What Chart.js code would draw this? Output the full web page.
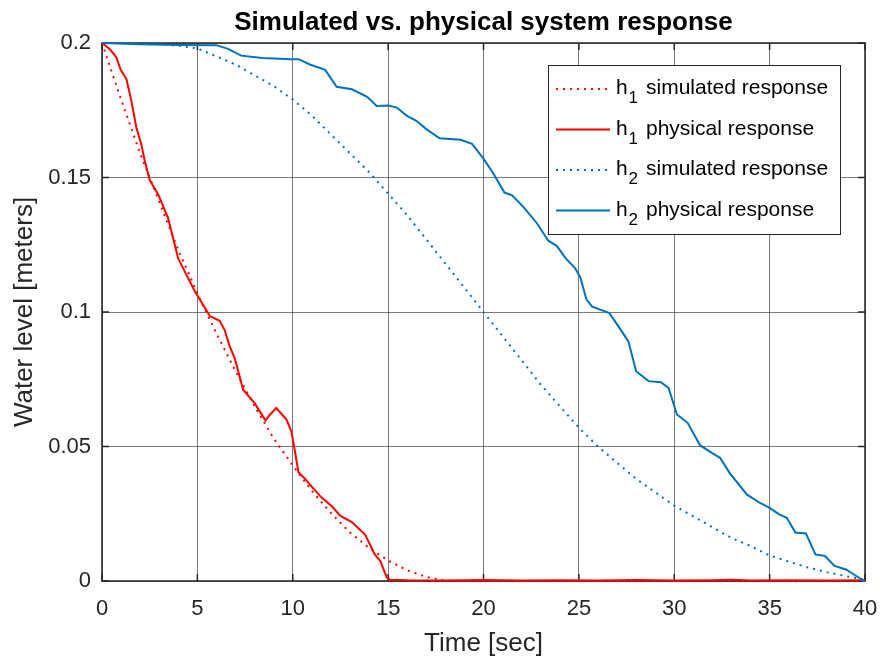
<!DOCTYPE html>
<html>
<head>
<meta charset="utf-8">
<script src="https://cdn.jsdelivr.net/npm/chart.js@4/dist/chart.umd.min.js"></script>
<style>
  html, body { margin: 0; padding: 0; background: #fff; }
  #wrap { width: 880px; height: 660px; }
</style>
</head>
<body>
<div id="wrap"><canvas id="chart" width="880" height="660"></canvas></div>
<script>
// ------------------------------------------------------------
// Data (time in sec, level in meters)
// ------------------------------------------------------------
const h1SimTime = [0, 1, 2, 3, 4, 5, 6, 7, 8, 9, 10, 11, 12, 13, 14, 15, 16, 17, 18, 19, 40];
const h1SimLevel = [0.2, 0.179, 0.159, 0.141, 0.123, 0.107, 0.092, 0.078, 0.065, 0.053, 0.043,
  0.0335, 0.0253, 0.018, 0.0123, 0.0076, 0.004, 0.0015, 0.0002, 0, 0];

const h1PhysTime = [0, 0.4, 0.75, 0.98, 1.28, 1.54, 1.8, 2.06, 2.24, 2.5, 2.94, 3.46, 3.72, 3.99,
  4.34, 4.86, 5.39, 5.65, 6.17, 6.43, 6.7, 6.96, 7.4, 8.0, 8.57, 8.8, 9.14, 9.67, 9.93, 10.1, 10.3,
  10.6, 10.9, 11.5, 12.05, 12.5, 13.1, 13.8, 14.3, 14.6, 14.93, 15.1, 16, 18, 20, 22, 24, 26, 28,
  30, 32, 33, 34, 36, 38, 40];
const h1PhysLevel = [0.2, 0.1978, 0.1947, 0.19, 0.1866, 0.1785, 0.1686, 0.1624, 0.1562, 0.149,
  0.1438, 0.135, 0.1277, 0.12, 0.115, 0.1078, 0.1016, 0.0985, 0.0967, 0.0933, 0.0871, 0.0828,
  0.0711, 0.0661, 0.0597, 0.0618, 0.0643, 0.06, 0.0556, 0.0488, 0.0404, 0.0383, 0.0358, 0.0311,
  0.0278, 0.0242, 0.0219, 0.0172, 0.0099, 0.0073, 0.0013, 0.0005, 0.0003, 0.0002, 0.0004, 0.0002,
  0.0003, 0.0002, 0.0004, 0.0002, 0.0003, 0.0005, 0.0002, 0.0003, 0.0002, 0.0003];

const h2SimTime = [0, 1, 2, 3, 4, 5, 6, 7, 8, 9, 10, 11, 12, 13, 14, 15, 16, 17, 18, 19, 20,
  21, 22, 23, 24, 25, 26, 27, 28, 29, 30, 31, 32, 33, 34, 35, 36, 37, 38, 39, 40];
const h2SimLevel = [0.2, 0.2, 0.2, 0.1995, 0.199, 0.198, 0.195, 0.192, 0.188, 0.184, 0.179,
  0.173, 0.166, 0.159, 0.152, 0.144, 0.136, 0.127, 0.118, 0.109, 0.1, 0.091, 0.082, 0.073, 0.065,
  0.057, 0.05, 0.044, 0.038, 0.033, 0.028, 0.024, 0.02, 0.016, 0.013, 0.0095, 0.0072, 0.005,
  0.0033, 0.0018, 0.0005];

const h2PhysTime = [0, 2, 4, 6, 6.6, 7.3, 8.4, 9.9, 10.3, 10.9, 11.7, 12.3, 13.1, 13.9, 14.4, 15.0,
  15.45, 15.97, 16.5, 17.0, 17.7, 18.8, 19.4, 20.0, 20.5, 21.1, 21.5, 22.1, 22.8, 23.4, 23.85,
  24.3, 24.8, 25.07, 25.4, 25.7, 26.6, 27.25, 27.6, 28.0, 28.65, 29.3, 29.7, 30.14, 30.7, 31.36,
  31.97, 32.4, 32.9, 33.8, 34.5, 35.0, 35.5, 35.9, 36.35, 36.9, 37.4, 37.9, 38.4, 39.0, 39.4,
  39.85, 40];
const h2PhysLevel = [0.2, 0.1995, 0.1993, 0.1992, 0.1978, 0.1953, 0.1944, 0.194, 0.194, 0.192,
  0.19, 0.1837, 0.1828, 0.18, 0.1766, 0.1768, 0.176, 0.173, 0.171, 0.168, 0.1646, 0.164, 0.1625,
  0.157, 0.1517, 0.1444, 0.1434, 0.139, 0.133, 0.1265, 0.1245, 0.12, 0.1163, 0.113, 0.1046, 0.102,
  0.0996, 0.0928, 0.089, 0.078, 0.0743, 0.0739, 0.0718, 0.0619, 0.0588, 0.0504, 0.0476, 0.0458,
  0.0402, 0.0322, 0.029, 0.0272, 0.0248, 0.0235, 0.018, 0.0177, 0.0099, 0.0093, 0.0056, 0.0043,
  0.0025, 0.0004, 0];

const xTicks = [0, 5, 10, 15, 20, 25, 30, 35, 40];
const yTicks = [0, 0.05, 0.1, 0.15, 0.2];

const RED = '#FF0000';
const BLUE = '#0072BD';
const INK = '#262626';
const FONT = "'Liberation Sans', Arial, sans-serif";

const LEGEND = [
  { sub: '1', text: 'simulated response', color: RED, dash: [2, 5] },
  { sub: '1', text: 'physical response', color: RED, dash: [] },
  { sub: '2', text: 'simulated response', color: BLUE, dash: [2, 5] },
  { sub: '2', text: 'physical response', color: BLUE, dash: [] },
];

function toPoints(xs, ys) { return xs.map((x, i) => ({ x, y: ys[i] })); }

function line(label, xs, ys, color, dash, order) {
  return {
    label,
    data: toPoints(xs, ys),
    borderColor: color,
    borderWidth: 2,
    borderDash: dash,
    pointRadius: 0,
    tension: 0,
    clip: 4,
    order,
  };
}

// ------------------------------------------------------------
// Frame + inward ticks under the data, title and legend on top
// ------------------------------------------------------------
const framePlugin = {
  id: 'frame',
  beforeDatasetsDraw(chart) {
    const { ctx, chartArea: a, scales } = chart;
    ctx.save();
    ctx.strokeStyle = INK;
    ctx.lineWidth = 1.5;
    ctx.strokeRect(a.left, a.top, a.right - a.left, a.bottom - a.top);

    const tl = 7;
    ctx.beginPath();
    xTicks.forEach(v => {
      const px = scales.x.getPixelForValue(v);
      ctx.moveTo(px, a.bottom); ctx.lineTo(px, a.bottom - tl);
      ctx.moveTo(px, a.top); ctx.lineTo(px, a.top + tl);
    });
    yTicks.forEach(v => {
      const py = scales.y.getPixelForValue(v);
      ctx.moveTo(a.left, py); ctx.lineTo(a.left + tl, py);
      ctx.moveTo(a.right, py); ctx.lineTo(a.right - tl, py);
    });
    ctx.stroke();
    ctx.restore();
  },
  afterDraw(chart) {
    const { ctx, chartArea: a } = chart;
    ctx.save();

    // title
    ctx.fillStyle = '#000';
    ctx.font = `bold 26px ${FONT}`;
    ctx.textAlign = 'center';
    ctx.textBaseline = 'alphabetic';
    ctx.fillText('Simulated vs. physical system response', (a.left + a.right) / 2, 30);

    // legend
    const lx = 548, ly = 65, lw = 292, lh = 169;
    ctx.fillStyle = '#fff';
    ctx.fillRect(lx, ly, lw, lh);
    ctx.lineWidth = 1;
    ctx.strokeStyle = INK;
    ctx.strokeRect(lx + 0.5, ly + 0.5, lw, lh);

    LEGEND.forEach((e, i) => {
      const y = 89 + i * 40.5;
      ctx.beginPath();
      ctx.setLineDash(e.dash);
      ctx.strokeStyle = e.color;
      ctx.lineWidth = 2;
      ctx.moveTo(556, y); ctx.lineTo(610, y);
      ctx.stroke();
      ctx.setLineDash([]);

      ctx.fillStyle = '#000';
      ctx.textAlign = 'left';
      ctx.font = `21px ${FONT}`;
      ctx.fillText('h', 616, y + 5);
      ctx.font = `17px ${FONT}`;
      ctx.fillText(e.sub, 628.5, y + 14);
      ctx.font = `21px ${FONT}`;
      ctx.fillText(e.text, 646, y + 5);
    });
    ctx.restore();
  },
};

new Chart(document.getElementById('chart'), {
  type: 'line',
  data: {
    datasets: [
      line('h1 simulated response', h1SimTime, h1SimLevel, RED, [2, 5], 3),
      line('h1 physical response', h1PhysTime, h1PhysLevel, RED, [], 2),
      line('h2 simulated response', h2SimTime, h2SimLevel, BLUE, [2, 5], 1),
      line('h2 physical response', h2PhysTime, h2PhysLevel, BLUE, [], 0),
    ],
  },
  options: {
    responsive: false,
    animation: false,
    devicePixelRatio: 1,
    layout: { padding: { top: 43, right: 15, left: 0, bottom: 0 } },
    plugins: { legend: { display: false }, tooltip: { enabled: false } },
    scales: {
      x: {
        type: 'linear',
        min: 0, max: 40,
        afterBuildTicks: (s) => { s.ticks = xTicks.map(v => ({ value: v })); },
        afterFit: (s) => { s.height = 79; s.paddingLeft = 0; s.paddingRight = 0; },
        grid: { color: 'rgba(38,38,38,0.62)', lineWidth: 1, drawTicks: false },
        border: { display: false },
        ticks: { color: INK, font: { family: FONT, size: 22 }, padding: 15, maxRotation: 0 },
        title: {
          display: true, text: 'Time [sec]', color: INK,
          font: { family: FONT, size: 26 }, padding: { top: 0, bottom: 1 },
        },
      },
      y: {
        min: 0, max: 0.2,
        afterBuildTicks: (s) => { s.ticks = yTicks.map(v => ({ value: v })); },
        afterFit: (s) => { s.width = 102; s.paddingTop = 0; s.paddingBottom = 0; },
        grid: { color: 'rgba(38,38,38,0.62)', lineWidth: 1, drawTicks: false },
        border: { display: false },
        ticks: {
          color: INK, font: { family: FONT, size: 22 }, padding: 11,
          callback: (v) => String(parseFloat(Number(v).toFixed(2))),
        },
        title: {
          display: true, text: 'Water level [meters]', color: INK,
          font: { family: FONT, size: 26 }, padding: { top: 9, bottom: 0 },
        },
      },
    },
  },
  plugins: [framePlugin],
});
</script>
</body>
</html>
